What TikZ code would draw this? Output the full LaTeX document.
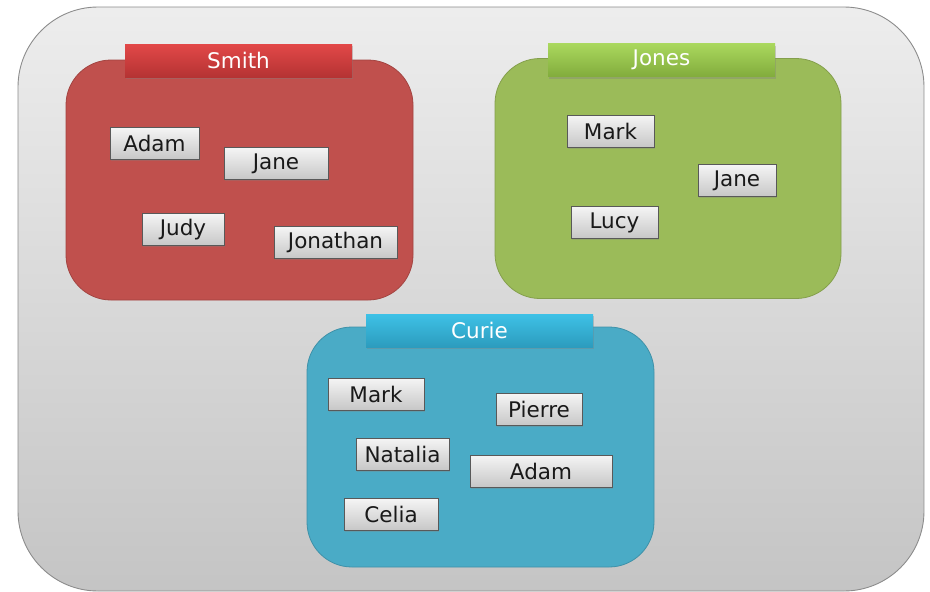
\documentclass[tikz,border=0pt]{standalone}
\usepackage{xcolor}
\usepackage{fontspec}
\setmainfont{DejaVu Sans}
\usetikzlibrary{shadows}

\definecolor{smithred}{HTML}{C0504D}
\definecolor{jonesgreen}{HTML}{9BBB59}
\definecolor{curieblue}{HTML}{4AABC6}
% title bar tops and bottoms
\definecolor{smithtop}{HTML}{E24848}
\definecolor{smithbot}{HTML}{B53333}
\definecolor{jonestop}{HTML}{AAD85E}
\definecolor{jonesbot}{HTML}{82AC3C}
\definecolor{curietop}{HTML}{3EC1E6}
\definecolor{curiebot}{HTML}{2C9CBE}

\tikzset{
  family/.style={draw, line width=0.8pt, rounded corners=45pt, minimum width=#1, minimum height=240pt},
  titlebar/.style={minimum width=227pt, minimum height=33pt, text=white, inner sep=0pt,
    drop shadow={shadow xshift=1pt, shadow yshift=-2pt, opacity=0.35}},
  person/.style={draw=black!65, line width=0.8pt, minimum width=#1, minimum height=32pt, inner sep=0pt,
    top color=white!96!black, bottom color=black!22, text=black!90,
    drop shadow={shadow xshift=1pt, shadow yshift=-1.5pt, opacity=0.3}},
}

\begin{document}
\begin{tikzpicture}[x=1pt, y=-1pt, font=\fontsize{21.5}{24}\selectfont]
        \useasboundingbox (0,0) rectangle (930,592);

        % outer frame
        \draw[black!45, line width=0.9pt, rounded corners=80pt, top color=black!7, bottom color=black!23]
            (18,7) rectangle (924,591);

        % Smith
        \node[family=347pt, fill=smithred, draw=smithred!85!black] (smith) at (239.5,180) {};
        \node[titlebar, top color=smithtop, bottom color=smithbot] (smithTitle) at (238.5,60.5) {Smith};
        \node[person=89pt] (smithAdam) at (154.5,143.5) {Adam};
        \node[person=104pt] (smithJane) at (276,163.5) {Jane};
        \node[person=82pt] (smithJudy) at (183,229.5) {Judy};
        \node[person=123pt] (smithJonathan) at (335.5,242.5) {Jonathan};

        % Jones
        \node[family=346pt, fill=jonesgreen, draw=jonesgreen!85!black] (jones) at (668,178.5) {};
        \node[titlebar, top color=jonestop, bottom color=jonesbot] (jonesTitle) at (661.5,60) {Jones};
        \node[person=87pt] (jonesMark) at (610.5,131) {Mark};
        \node[person=78pt] (jonesJane) at (737,180.5) {Jane};
        \node[person=87pt] (jonesLucy) at (614.5,222.5) {Lucy};

        % Curie
        \node[family=347pt, fill=curieblue, draw=curieblue!85!black] (curie) at (480.5,447) {};
        \node[titlebar, top color=curietop, bottom color=curiebot] (curieTitle) at (479.5,330.5) {Curie};
        \node[person=96pt] (curieMark) at (376,394) {Mark};
        \node[person=86pt] (curiePierre) at (539,409.5) {Pierre};
        \node[person=93pt] (curieNatalia) at (402.5,454) {Natalia};
        \node[person=142pt] (curieAdam) at (541,471) {Adam};
        \node[person=94pt] (curieCelia) at (391,514.5) {Celia};
    \end{tikzpicture}
\end{document}
